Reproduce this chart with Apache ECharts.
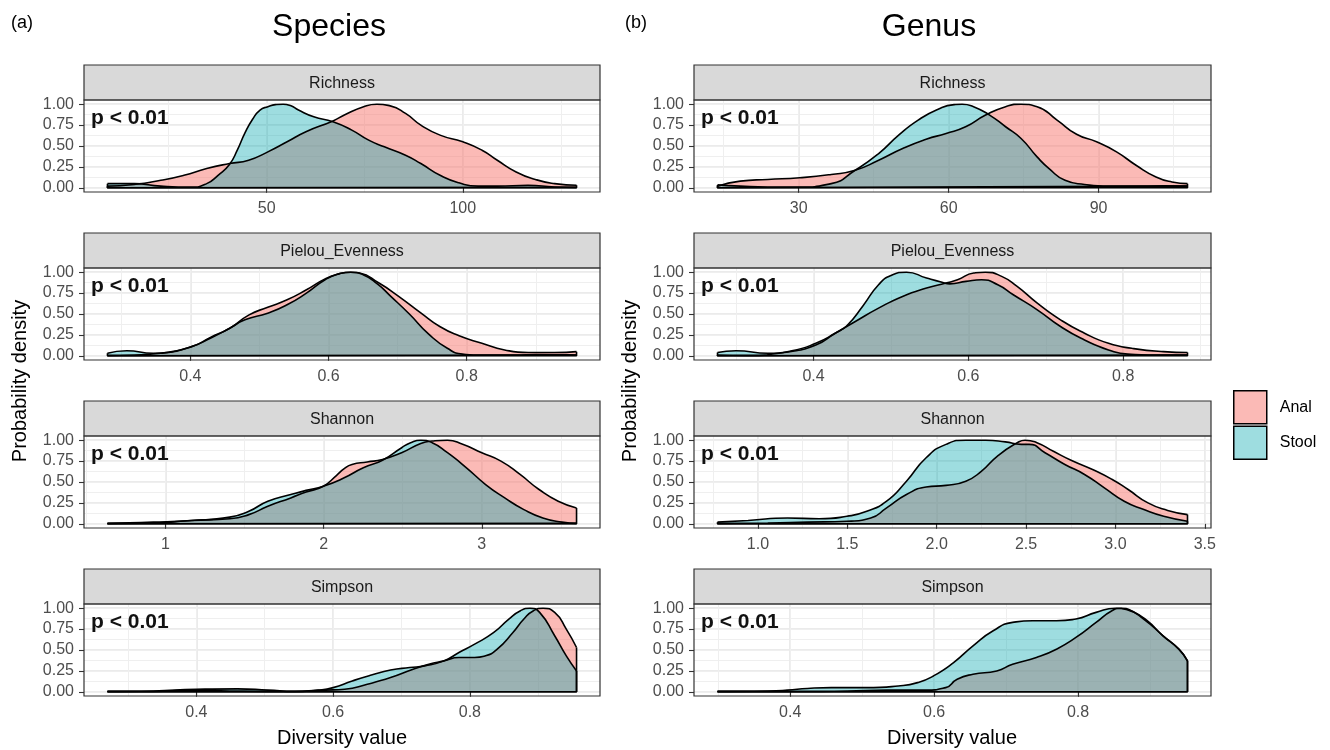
<!DOCTYPE html>
<html>
<head>
<meta charset="utf-8">
<script src="https://cdn.jsdelivr.net/npm/echarts@6/dist/echarts.min.js"></script>
<style>
  html, body { margin: 0; padding: 0; background: #fff; }
  #chart { width: 1330px; height: 750px; }
</style>
</head>
<body>
<div id="chart"></div>
<script>
// scaled densities (x = diversity value, y = density / max)
const spRichAnalX = [9.4, 16.2, 23.0, 28.9, 34.7, 40.5, 45.4, 50.3, 55.2, 60.0, 66.9, 69.8, 74.7, 78.1, 81.5, 85.4, 89.3, 94.2, 100.0, 104.9, 108.8, 113.6, 118.5, 123.4, 129.0]
const spRichAnalY = [0.02, 0.04, 0.09, 0.15, 0.23, 0.29, 0.33, 0.43, 0.55, 0.67, 0.80, 0.87, 0.97, 1.00, 0.98, 0.89, 0.75, 0.63, 0.55, 0.45, 0.33, 0.19, 0.10, 0.05, 0.03]
const spRichStoolX = [9.4, 16.2, 23.0, 30.8, 34.7, 37.6, 40.5, 42.5, 44.4, 46.4, 48.3, 50.3, 52.2, 54.2, 56.2, 58.1, 62.0, 66.9, 71.7, 76.0, 80.0, 85.4, 89.3, 94.2, 99.0, 103.9, 108.8, 116.6, 123.4, 129.0]
const spRichStoolY = [0.05, 0.05, 0.02, 0.01, 0.05, 0.15, 0.28, 0.45, 0.65, 0.82, 0.93, 0.97, 0.995, 1.00, 0.98, 0.93, 0.85, 0.79, 0.69, 0.57, 0.49, 0.39, 0.29, 0.15, 0.06, 0.02, 0.02, 0.03, 0.01, 0.005]

const gnRichAnalX = [13.75, 18.3, 23.8, 30.2, 36.5, 41.3, 46.0, 50.8, 55.5, 59.5, 63.4, 67.4, 71.4, 74.5, 77.7, 81.7, 85.6, 89.6, 93.6, 97.5, 101.5, 104.7, 107.8]
const gnRichAnalY = [0.02, 0.08, 0.10, 0.12, 0.16, 0.21, 0.33, 0.47, 0.58, 0.65, 0.73, 0.87, 0.97, 1.00, 0.97, 0.81, 0.64, 0.55, 0.43, 0.27, 0.13, 0.07, 0.05]
const gnRichStoolX = [13.75, 18.3, 23.8, 30.2, 36.5, 41.3, 46.0, 50.0, 53.9, 57.9, 61.1, 62.7, 65.0, 68.2, 71.4, 74.5, 77.7, 80.1, 83.3, 87.2, 92.0, 96.7, 103.1, 107.8]
const gnRichStoolY = [0.035, 0.02, 0.01, 0.01, 0.05, 0.21, 0.41, 0.63, 0.81, 0.94, 0.995, 1.00, 0.97, 0.87, 0.73, 0.59, 0.37, 0.23, 0.09, 0.04, 0.02, 0.02, 0.025, 0.02]

const spPielAnalX = [0.280, 0.319, 0.357, 0.402, 0.429, 0.457, 0.485, 0.512, 0.540, 0.568, 0.595, 0.615, 0.632, 0.645, 0.673, 0.700, 0.734, 0.761, 0.789, 0.822, 0.855, 0.889, 0.927, 0.959]
const spPielAnalY = [0.005, 0.01, 0.03, 0.11, 0.22, 0.33, 0.49, 0.58, 0.67, 0.79, 0.92, 0.98, 1.00, 0.99, 0.87, 0.72, 0.51, 0.35, 0.24, 0.15, 0.07, 0.04, 0.04, 0.05]
const spPielStoolX = [0.280, 0.308, 0.346, 0.374, 0.402, 0.429, 0.457, 0.479, 0.512, 0.540, 0.568, 0.595, 0.615, 0.632, 0.650, 0.672, 0.689, 0.717, 0.745, 0.772, 0.794, 0.822, 0.872, 0.900, 0.959]
const spPielStoolY = [0.03, 0.06, 0.03, 0.05, 0.11, 0.21, 0.33, 0.43, 0.51, 0.61, 0.75, 0.91, 0.98, 1.00, 0.97, 0.85, 0.72, 0.50, 0.26, 0.09, 0.02, 0.01, 0.01, 0.015, 0.01]

const gnPielAnalX = [0.276, 0.316, 0.362, 0.403, 0.428, 0.454, 0.484, 0.515, 0.546, 0.571, 0.586, 0.607, 0.622, 0.643, 0.663, 0.689, 0.719, 0.750, 0.781, 0.811, 0.852, 0.883]
const gnPielAnalY = [0.01, 0.005, 0.04, 0.13, 0.27, 0.41, 0.57, 0.71, 0.81, 0.87, 0.91, 0.99, 1.00, 0.95, 0.83, 0.63, 0.43, 0.27, 0.15, 0.09, 0.05, 0.04]
const gnPielStoolX = [0.276, 0.300, 0.341, 0.372, 0.403, 0.428, 0.443, 0.464, 0.484, 0.500, 0.520, 0.546, 0.566, 0.576, 0.597, 0.617, 0.638, 0.658, 0.689, 0.719, 0.750, 0.781, 0.806, 0.852, 0.883]
const gnPielStoolY = [0.04, 0.06, 0.03, 0.06, 0.15, 0.27, 0.36, 0.60, 0.85, 0.96, 1.00, 0.93, 0.88, 0.86, 0.89, 0.91, 0.85, 0.73, 0.55, 0.35, 0.19, 0.07, 0.02, 0.01, 0.01]

const spShanAnalX = [0.633, 0.923, 1.164, 1.406, 1.527, 1.647, 1.792, 1.889, 1.998, 2.082, 2.130, 2.179, 2.275, 2.372, 2.493, 2.614, 2.686, 2.783, 2.879, 3.000, 3.121, 3.242, 3.362, 3.483, 3.599]
const spShanAnalY = [0.005, 0.01, 0.04, 0.06, 0.11, 0.21, 0.31, 0.38, 0.45, 0.58, 0.66, 0.71, 0.74, 0.77, 0.85, 0.96, 0.99, 1.00, 0.95, 0.85, 0.75, 0.59, 0.41, 0.27, 0.19]
const spShanStoolX = [0.633, 0.923, 1.164, 1.406, 1.527, 1.647, 1.792, 1.889, 1.998, 2.130, 2.251, 2.372, 2.493, 2.550, 2.614, 2.686, 2.783, 2.903, 3.024, 3.145, 3.266, 3.386, 3.507, 3.599]
const spShanStoolY = [0.005, 0.02, 0.04, 0.08, 0.15, 0.27, 0.35, 0.40, 0.45, 0.55, 0.67, 0.76, 0.91, 0.97, 1.00, 0.97, 0.85, 0.67, 0.47, 0.31, 0.17, 0.07, 0.02, 0.005]

const gnShanAnalX = [0.774, 1.055, 1.277, 1.498, 1.631, 1.720, 1.831, 1.941, 2.052, 2.163, 2.251, 2.340, 2.451, 2.495, 2.561, 2.650, 2.761, 2.872, 2.982, 3.071, 3.182, 3.292, 3.403]
const gnShanAnalY = [0.005, 0.01, 0.02, 0.03, 0.07, 0.19, 0.35, 0.44, 0.46, 0.51, 0.63, 0.81, 0.97, 1.00, 0.97, 0.87, 0.75, 0.65, 0.53, 0.41, 0.25, 0.16, 0.11]
const gnShanStoolX = [0.774, 0.945, 1.166, 1.343, 1.498, 1.609, 1.720, 1.831, 1.941, 2.052, 2.163, 2.274, 2.384, 2.473, 2.517, 2.606, 2.717, 2.827, 2.938, 3.049, 3.159, 3.270, 3.403]
const gnShanStoolY = [0.02, 0.04, 0.07, 0.06, 0.09, 0.15, 0.27, 0.51, 0.79, 0.95, 1.00, 1.00, 0.98, 0.95, 0.95, 0.85, 0.71, 0.59, 0.43, 0.27, 0.17, 0.09, 0.03]

const spSimpAnalX = [0.270, 0.337, 0.393, 0.449, 0.539, 0.589, 0.617, 0.650, 0.684, 0.717, 0.740, 0.762, 0.784, 0.807, 0.823, 0.840, 0.863, 0.879, 0.893, 0.907, 0.924, 0.941, 0.956]
const spSimpAnalY = [0.005, 0.005, 0.02, 0.01, 0.005, 0.02, 0.03, 0.09, 0.17, 0.27, 0.33, 0.37, 0.41, 0.41, 0.43, 0.51, 0.71, 0.87, 0.97, 1.00, 0.95, 0.75, 0.53]
const spSimpStoolX = [0.270, 0.337, 0.400, 0.460, 0.505, 0.544, 0.578, 0.600, 0.628, 0.656, 0.684, 0.712, 0.734, 0.762, 0.784, 0.807, 0.835, 0.857, 0.874, 0.888, 0.902, 0.924, 0.941, 0.956]
const spSimpStoolY = [0.005, 0.01, 0.03, 0.035, 0.02, 0.005, 0.02, 0.05, 0.13, 0.20, 0.26, 0.29, 0.31, 0.37, 0.47, 0.57, 0.71, 0.87, 0.97, 1.00, 0.95, 0.67, 0.43, 0.25]

const gnSimpAnalX = [0.299, 0.424, 0.479, 0.534, 0.588, 0.616, 0.632, 0.654, 0.687, 0.709, 0.742, 0.770, 0.797, 0.825, 0.847, 0.860, 0.874, 0.896, 0.918, 0.940, 0.952]
const gnSimpAnalY = [0.005, 0.005, 0.01, 0.02, 0.02, 0.05, 0.15, 0.21, 0.25, 0.33, 0.41, 0.51, 0.65, 0.83, 0.97, 1.00, 0.97, 0.85, 0.67, 0.51, 0.37]
const gnSimpStoolX = [0.299, 0.369, 0.396, 0.424, 0.457, 0.506, 0.550, 0.577, 0.599, 0.627, 0.654, 0.682, 0.709, 0.737, 0.770, 0.797, 0.825, 0.852, 0.869, 0.891, 0.918, 0.940, 0.952]
const gnSimpStoolY = [0.005, 0.01, 0.02, 0.04, 0.05, 0.05, 0.07, 0.11, 0.19, 0.35, 0.55, 0.73, 0.83, 0.85, 0.85, 0.87, 0.95, 1.00, 0.98, 0.87, 0.67, 0.51, 0.37]

// tick labels
const spRichTicks = [50, 100]
const gnRichTicks = [30, 60, 90]
const pielTicks = [0.4, 0.6, 0.8]
const spShanTicks = [1, 2, 3]
const gnShanTicks = [1.0, 1.5, 2.0, 2.5, 3.0, 3.5]
const simpTicks = [0.4, 0.6, 0.8]
const densityTicks = [0, 0.25, 0.5, 0.75, 1]

const groups = ['Anal', 'Stool']
const pLabel = 'p < 0.01'

// layout
const COL_LEFT = [84, 694]
const COL_WIDTH = [516, 517]
const ROW_TOP = [100, 268, 436, 604]
const PANEL_H = 92
const STRIP_H = 35
const FONT = 'Liberation Sans, Arial, Helvetica, sans-serif'
const FILL = { Anal: '#F8766D', Stool: '#00A5AD' }
const ALPHA = { Anal: 0.5, Stool: 0.38 }

const panels = [
  { facet: 'Richness', col: 0, row: 0, ticks: spRichTicks, digits: 0, anal: [spRichAnalX, spRichAnalY], stool: [spRichStoolX, spRichStoolY] },
  { facet: 'Richness', col: 1, row: 0, ticks: gnRichTicks, digits: 0, anal: [gnRichAnalX, gnRichAnalY], stool: [gnRichStoolX, gnRichStoolY] },
  { facet: 'Pielou_Evenness', col: 0, row: 1, ticks: pielTicks, digits: 1, anal: [spPielAnalX, spPielAnalY], stool: [spPielStoolX, spPielStoolY] },
  { facet: 'Pielou_Evenness', col: 1, row: 1, ticks: pielTicks, digits: 1, anal: [gnPielAnalX, gnPielAnalY], stool: [gnPielStoolX, gnPielStoolY] },
  { facet: 'Shannon', col: 0, row: 2, ticks: spShanTicks, digits: 0, anal: [spShanAnalX, spShanAnalY], stool: [spShanStoolX, spShanStoolY] },
  { facet: 'Shannon', col: 1, row: 2, ticks: gnShanTicks, digits: 1, anal: [gnShanAnalX, gnShanAnalY], stool: [gnShanStoolX, gnShanStoolY] },
  { facet: 'Simpson', col: 0, row: 3, ticks: simpTicks, digits: 1, anal: [spSimpAnalX, spSimpAnalY], stool: [spSimpStoolX, spSimpStoolY] },
  { facet: 'Simpson', col: 1, row: 3, ticks: simpTicks, digits: 1, anal: [gnSimpAnalX, gnSimpAnalY], stool: [gnSimpStoolX, gnSimpStoolY] }
]

// ggplot style 5% expansion of the data range
function ggRange(xs) {
  const lo = Math.min(...xs), hi = Math.max(...xs)
  const pad = (hi - lo) * 0.05
  return [lo - pad, hi + pad]
}

// minor grid halfway between the breaks, across the whole panel
function minorBreaks(ticks, lo, hi) {
  const step = (ticks[1] - ticks[0]) / 2
  let v = ticks[0]
  while (v - step >= lo) v -= step
  const out = []
  for (; v <= hi + 1e-9; v += step) out.push(+v.toFixed(6))
  return out
}

function rgba(hex, a) {
  const n = parseInt(hex.slice(1), 16)
  return `rgba(${n >> 16},${(n >> 8) & 255},${n & 255},${a})`
}

const grid = [], xAxis = [], yAxis = [], series = [], graphic = []
const yRange = [-0.05, 1.05]

panels.forEach((p, i) => {
  const left = COL_LEFT[p.col], width = COL_WIDTH[p.col], top = ROW_TOP[p.row]
  grid.push({ left, top, width, height: PANEL_H, show: true, backgroundColor: '#fff', borderWidth: 0 })

  const [lo, hi] = ggRange(p.anal[0].concat(p.stool[0]))
  const xMinor = minorBreaks(p.ticks, lo, hi)
  const yMinor = minorBreaks(densityTicks, yRange[0], yRange[1])

  xAxis.push({
    gridIndex: i, type: 'value', min: lo, max: hi,
    axisLine: { show: false },
    axisTick: { show: true, customValues: p.ticks, length: 5, lineStyle: { color: '#333', width: 1.1 } },
    axisLabel: { customValues: p.ticks, color: '#4D4D4D', fontSize: 16, margin: 9, fontFamily: FONT, formatter: v => v.toFixed(p.digits) },
    splitLine: { show: true, lineStyle: { color: '#EBEBEB', width: 2 } }
  })
  xAxis.push({
    gridIndex: i, type: 'value', min: lo, max: hi,
    axisLine: { show: false },
    axisTick: { show: false, customValues: xMinor },
    axisLabel: { show: false, customValues: xMinor },
    splitLine: { show: true, lineStyle: { color: '#EFEFEF', width: 1 } }
  })
  yAxis.push({
    gridIndex: i, type: 'value', min: yRange[0], max: yRange[1],
    axisLine: { show: false },
    axisTick: { show: true, customValues: densityTicks, length: 5, lineStyle: { color: '#333', width: 1.1 } },
    axisLabel: { customValues: densityTicks, color: '#4D4D4D', fontSize: 16, margin: 10, fontFamily: FONT, formatter: v => v.toFixed(2) },
    splitLine: { show: true, lineStyle: { color: '#EBEBEB', width: 2 } }
  })
  yAxis.push({
    gridIndex: i, type: 'value', min: yRange[0], max: yRange[1],
    axisLine: { show: false },
    axisTick: { show: false, customValues: yMinor },
    axisLabel: { show: false, customValues: yMinor },
    splitLine: { show: true, lineStyle: { color: '#EFEFEF', width: 1 } }
  })

  groups.forEach(g => {
    const [xs, ys] = g === 'Anal' ? p.anal : p.stool
    const n = xs.length - 1
    series.push({
      type: 'line', name: g, xAxisIndex: 2 * i, yAxisIndex: 2 * i,
      data: xs.map((x, k) => [x, ys[k]]),
      symbol: 'none', smooth: 0.55,
      lineStyle: { color: '#000', width: 1.6 },
      itemStyle: { color: rgba(FILL[g], ALPHA[g]) },
      areaStyle: { color: FILL[g], opacity: ALPHA[g] },
      silent: true, animation: false
    })
    // closing edges of the density polygon (ends + baseline)
    series.push({
      type: 'line', xAxisIndex: 2 * i, yAxisIndex: 2 * i,
      data: [[xs[n], ys[n]], [xs[n], 0], [xs[0], 0], [xs[0], ys[0]]],
      symbol: 'none', lineStyle: { color: '#000', width: 1.6 },
      silent: true, animation: false
    })
  })

  // facet strip
  graphic.push({
    type: 'rect', shape: { x: left, y: top - STRIP_H, width, height: STRIP_H },
    style: { fill: '#D9D9D9', stroke: '#333', lineWidth: 1.2 }, z: 100
  })
  graphic.push({
    type: 'text', x: left + width / 2, y: top - STRIP_H / 2 + 1,
    style: { text: p.facet, fill: '#1A1A1A', font: `16px ${FONT}`, align: 'center', verticalAlign: 'middle' }, z: 101
  })
  // panel border
  graphic.push({
    type: 'rect', shape: { x: left, y: top, width, height: PANEL_H },
    style: { fill: null, stroke: '#333', lineWidth: 1.2 }, z: 100
  })
  graphic.push({
    type: 'text', x: left + 7, y: top + 18,
    style: { text: pLabel, fill: '#111', font: `bold 21px ${FONT}`, align: 'left', verticalAlign: 'middle' }, z: 101
  })
})

// titles and axis titles
const texts = [
  { text: '(a)', x: 11, y: 23, size: 18, align: 'left' },
  { text: '(b)', x: 625, y: 23, size: 18, align: 'left' },
  { text: 'Species', x: 329, y: 27, size: 32, align: 'center' },
  { text: 'Genus', x: 929, y: 27, size: 32, align: 'center' },
  { text: 'Diversity value', x: 342, y: 738, size: 20, align: 'center' },
  { text: 'Diversity value', x: 952, y: 738, size: 20, align: 'center' }
]
texts.forEach(t => {
  graphic.push({
    type: 'text', x: t.x, y: t.y,
    style: { text: t.text, fill: '#000', font: `${t.size}px ${FONT}`, align: t.align, verticalAlign: 'middle' }, z: 101
  })
})
;[20, 630].forEach(x => {
  graphic.push({
    type: 'text', x, y: 381, rotation: Math.PI / 2,
    style: { text: 'Probability density', fill: '#000', font: `20px ${FONT}`, align: 'center', verticalAlign: 'middle' }, z: 101
  })
})

const chart = echarts.init(document.getElementById('chart'), null, { renderer: 'canvas' })
chart.setOption({
  animation: false,
  backgroundColor: '#fff',
  textStyle: { fontFamily: FONT },
  grid, xAxis, yAxis, series, graphic,
  legend: {
    orient: 'vertical', left: 1233, top: 390,
    itemWidth: 33, itemHeight: 33, itemGap: 1, padding: 0,
    icon: 'rect', selectedMode: false,
    textStyle: { fontSize: 16, color: '#000', padding: [0, 0, 0, 8] },
    data: groups.map(g => ({
      name: g,
      itemStyle: { color: rgba(FILL[g], ALPHA[g]), borderColor: '#000', borderWidth: 1.5 }
    }))
  }
})
</script>
</body>
</html>
